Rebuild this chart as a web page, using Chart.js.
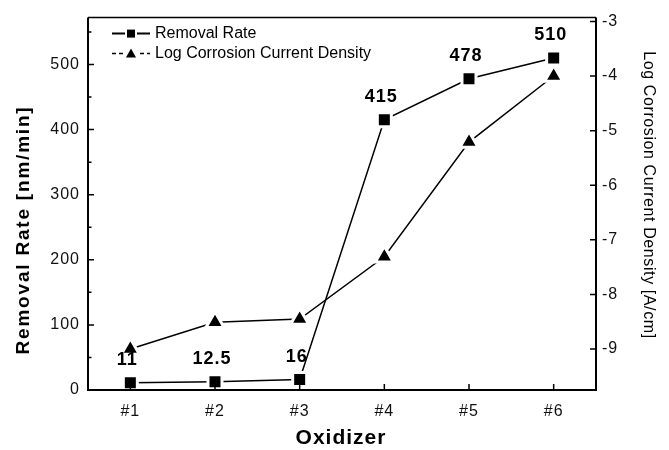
<!DOCTYPE html>
<html>
<head>
<meta charset="utf-8">
<script src="https://cdn.jsdelivr.net/npm/chart.js@4/dist/chart.umd.min.js"></script>
<style>
  html, body { margin: 0; padding: 0; background: #fff; }
  #wrap { width: 669px; height: 450px; position: relative; }
</style>
</head>
<body>
<div id="wrap"><canvas id="c" width="669" height="450"></canvas></div>
<script>
const categories = ['#1', '#2', '#3', '#4', '#5', '#6'];
const removalRate = [11, 12.5, 16, 415, 478, 510];
const logCorrosion = [-9.0, -8.51, -8.45, -7.31, -5.21, -4.0];
const leftTicks = [0, 100, 200, 300, 400, 500];
const leftMinorTicks = [50, 150, 250, 350, 450, 550];
const rightTicks = [-9, -8, -7, -6, -5, -4, -3];
const seriesNames = ['Removal Rate', 'Log Corrosion Current Density'];
const FONT = "'Liberation Sans', Arial, Helvetica, sans-serif";

const framePlugin = {
  id: 'frame',
  beforeDraw(chart) {
    chart.ctx.letterSpacing = '1px';
  },
  afterDatasetsDraw(chart) {
    const ctx = chart.ctx;
    const a = chart.chartArea;
    const x = chart.scales.x, y = chart.scales.y, y2 = chart.scales.y2;
    ctx.save();
    ctx.letterSpacing = '0px';
    ctx.strokeStyle = '#000';
    // frame
    ctx.lineWidth = 2;
    ctx.beginPath();
    ctx.moveTo(a.left, a.top); ctx.lineTo(a.left, a.bottom);
    ctx.lineTo(a.right, a.bottom); ctx.lineTo(a.right, a.top);
    ctx.stroke();
    ctx.lineWidth = 1.5;
    ctx.beginPath(); ctx.moveTo(a.left, a.top); ctx.lineTo(a.right, a.top); ctx.stroke();
    // ticks
    ctx.lineWidth = 1.5;
    ctx.beginPath();
    leftTicks.forEach(v => { const p = y.getPixelForValue(v); ctx.moveTo(a.left, p); ctx.lineTo(a.left + 6, p); });
    leftMinorTicks.forEach(v => { const p = y.getPixelForValue(v); ctx.moveTo(a.left, p); ctx.lineTo(a.left + 3.5, p); });
    rightTicks.forEach(v => { const p = y2.getPixelForValue(v); ctx.moveTo(a.right, p); ctx.lineTo(a.right - 6, p); });
    categories.forEach((c, i) => { const p = x.getPixelForValue(i); ctx.moveTo(p, a.bottom); ctx.lineTo(p, a.bottom - 6); });
    ctx.stroke();

    // data labels
    const meta = chart.getDatasetMeta(0);
    ctx.fillStyle = '#000';
    ctx.font = 'bold 18px ' + FONT;
    ctx.letterSpacing = '1px';
    ctx.textAlign = 'center';
    ctx.textBaseline = 'middle';
    meta.data.forEach((pt, i) => {
      const v = removalRate[i];
      ctx.fillText(String(v), pt.x - 3, pt.y - 23);
    });
    ctx.restore();
  },
  afterDraw(chart) {
    const ctx = chart.ctx;
    const a = chart.chartArea;
    ctx.save();
    ctx.fillStyle = '#000';
    ctx.strokeStyle = '#000';
    // legend
    ctx.letterSpacing = '0px';
    ctx.font = '16px ' + FONT;
    ctx.textAlign = 'left';
    ctx.textBaseline = 'middle';
    const lx0 = a.left + 24, lx1 = a.left + 62, tx = a.left + 67;
    const r1 = a.top + 16, r2 = a.top + 36;
    ctx.lineWidth = 2;
    ctx.beginPath(); ctx.moveTo(lx0, r1); ctx.lineTo(lx1, r1); ctx.stroke();
    ctx.fillStyle = '#fff';
    ctx.fillRect((lx0 + lx1) / 2 - 6, r1 - 6, 12, 12);
    ctx.fillStyle = '#000';
    ctx.fillRect((lx0 + lx1) / 2 - 4, r1 - 4, 8, 8);
    ctx.fillText(seriesNames[0], tx, r1);
    ctx.lineWidth = 1.5;
    ctx.setLineDash([4, 3]);
    ctx.beginPath(); ctx.moveTo(lx0, r2); ctx.lineTo(lx1, r2); ctx.stroke();
    ctx.setLineDash([]);
    const cx = (lx0 + lx1) / 2;
    ctx.fillStyle = '#fff';
    ctx.fillRect(cx - 6, r2 - 6, 12, 12);
    ctx.fillStyle = '#000';
    ctx.beginPath(); ctx.moveTo(cx, r2 - 5); ctx.lineTo(cx + 5, r2 + 4); ctx.lineTo(cx - 5, r2 + 4); ctx.closePath(); ctx.fill();
    ctx.fillText(seriesNames[1], tx, r2);

    // axis titles
    ctx.textAlign = 'center';
    ctx.textBaseline = 'middle';
    ctx.font = 'bold 19px ' + FONT;
    ctx.letterSpacing = '1.8px';
    ctx.save();
    ctx.translate(24, 230);
    ctx.rotate(-Math.PI / 2);
    ctx.fillText('Removal Rate [nm/min]', 0, 0);
    ctx.restore();

    ctx.font = '16px ' + FONT;
    ctx.letterSpacing = '0.6px';
    ctx.save();
    ctx.translate(648, 195);
    ctx.rotate(Math.PI / 2);
    ctx.fillText('Log Corrosion Current Density [A/cm]', 0, 0);
    ctx.restore();

    ctx.font = 'bold 21px ' + FONT;
    ctx.letterSpacing = '1px';
    ctx.fillText('Oxidizer', 341, 438);
    ctx.restore();
  }
};

new Chart(document.getElementById('c'), {
  type: 'line',
  data: {
    labels: categories,
    datasets: [
      {
        label: seriesNames[0],
        data: removalRate,
        yAxisID: 'y',
        borderColor: '#000',
        borderWidth: 1.5,
        tension: 0,
        pointStyle: 'rect',
        pointRadius: 9.9,
        pointBackgroundColor: '#000',
        pointBorderColor: '#fff',
        pointBorderWidth: 3
      },
      {
        label: seriesNames[1],
        data: logCorrosion,
        yAxisID: 'y2',
        borderColor: '#000',
        borderWidth: 1.5,
        tension: 0,
        pointStyle: 'triangle',
        pointRadius: 10.5,
        pointBackgroundColor: '#000',
        pointBorderColor: '#fff',
        pointBorderWidth: 3
      }
    ]
  },
  options: {
    responsive: false,
    animation: false,
    devicePixelRatio: 1,
    layout: { padding: { top: 16, left: 0, right: 0, bottom: 0 } },
    plugins: { legend: { display: false }, tooltip: { enabled: false } },
    scales: {
      x: {
        type: 'category',
        offset: true,
        grid: { display: false, drawTicks: false },
        border: { display: false },
        ticks: { color: '#111', font: { family: FONT, size: 16 }, padding: 12 },
        afterFit(s) { s.height = 60; }
      },
      y: {
        position: 'left',
        min: 0,
        max: 572,
        grid: { display: false, drawTicks: false },
        border: { display: false },
        afterBuildTicks(s) { s.ticks = leftTicks.map(v => ({ value: v })); },
        ticks: { color: '#111', font: { family: FONT, size: 16 }, padding: 8 },
        afterFit(s) { s.width = 88; }
      },
      y2: {
        position: 'right',
        min: -9.75,
        max: -2.93,
        grid: { display: false, drawTicks: false },
        border: { display: false },
        afterBuildTicks(s) { s.ticks = rightTicks.map(v => ({ value: v })); },
        ticks: { color: '#111', font: { family: FONT, size: 16 }, padding: 6 },
        afterFit(s) { s.width = 73; }
      }
    }
  },
  plugins: [framePlugin]
});
</script>
</body>
</html>
